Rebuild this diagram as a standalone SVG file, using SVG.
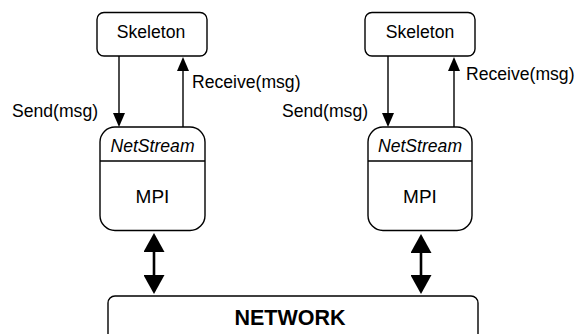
<svg xmlns="http://www.w3.org/2000/svg" width="578" height="334" viewBox="0 0 578 334">
  <style>
    .box { fill: #ffffff; stroke: #000000; stroke-width: 1.4; }
    .lbl { font-family: "Liberation Sans", Arial, sans-serif; font-size: 17.6px; fill: #000000; }
    .ital { font-style: italic; }
    .big { font-size: 19px; }
    .bold { font-weight: bold; font-size: 21.5px; }
    .thin { stroke: #000000; stroke-width: 1.4; fill: none; marker-end: url(#head); }
    .thick { stroke: #000000; stroke-width: 2.6; fill: none; marker-start: url(#bighead); marker-end: url(#bighead); }
  </style>
  <defs>
    <marker id="head" markerUnits="userSpaceOnUse" markerWidth="14" markerHeight="12" refX="4" refY="6" orient="auto">
      <path d="M0,0 L14,6 L0,12 Z" fill="#000000"/>
    </marker>
    <marker id="bighead" markerUnits="userSpaceOnUse" markerWidth="19" markerHeight="21" refX="5" refY="10.5" orient="auto-start-reverse">
      <path d="M0,0 L19,10.5 L0,21 Z" fill="#000000"/>
    </marker>
  </defs>

  <rect width="578" height="334" fill="#ffffff"/>

  <!-- left stack -->
  <g id="skeleton-left">
    <rect class="box" x="97" y="12.5" width="110" height="43.5" rx="7"/>
    <text class="lbl" x="151" y="38" text-anchor="middle">Skeleton</text>
  </g>
  <g id="netstream-left">
    <rect class="box" x="100" y="127" width="105" height="103.5" rx="15"/>
    <line x1="100" y1="161" x2="205" y2="161" stroke="#000000" stroke-width="1.4"/>
    <text class="lbl ital" x="152.5" y="152" text-anchor="middle">NetStream</text>
    <text class="lbl big" x="152.5" y="203" text-anchor="middle">MPI</text>
  </g>

  <!-- right stack -->
  <g id="skeleton-right">
    <rect class="box" x="365" y="12.5" width="110" height="43.5" rx="7"/>
    <text class="lbl" x="420" y="38" text-anchor="middle">Skeleton</text>
  </g>
  <g id="netstream-right">
    <rect class="box" x="368" y="127" width="104" height="103.5" rx="15"/>
    <line x1="368" y1="161" x2="472" y2="161" stroke="#000000" stroke-width="1.4"/>
    <text class="lbl ital" x="420" y="152" text-anchor="middle">NetStream</text>
    <text class="lbl big" x="420" y="203" text-anchor="middle">MPI</text>
  </g>

  <!-- shared network -->
  <g id="network">
    <rect class="box" x="108" y="296" width="370" height="60" rx="7"/>
    <text class="lbl bold" x="290" y="325" text-anchor="middle">NETWORK</text>
  </g>

  <g id="connectors">
    <line class="thin" x1="119" y1="56" x2="119" y2="117"/>
    <line class="thin" x1="183" y1="127" x2="183" y2="67"/>
    <line class="thin" x1="388" y1="56" x2="388" y2="117"/>
    <line class="thin" x1="454" y1="127" x2="454" y2="67"/>
    <line class="thick" x1="154" y1="247" x2="154" y2="280"/>
    <line class="thick" x1="421" y1="248" x2="421" y2="280"/>
    <text class="lbl" x="12" y="117">Send(msg)</text>
    <text class="lbl" x="192" y="88">Receive(msg)</text>
    <text class="lbl" x="282" y="117">Send(msg)</text>
    <text class="lbl" x="466" y="80">Receive(msg)</text>
  </g>
</svg>
